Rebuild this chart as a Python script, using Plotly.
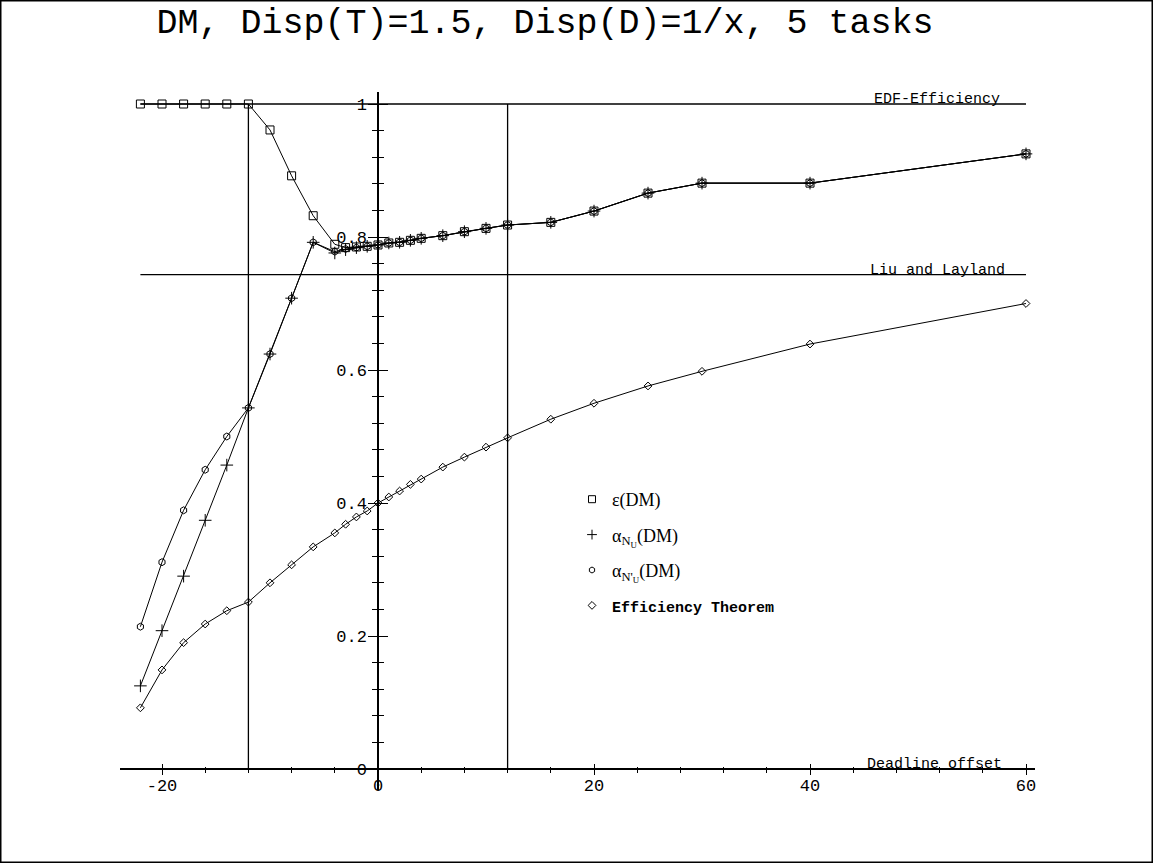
import plotly.graph_objects as go

# ---------------- data ----------------
x_offset = [-22, -20, -18, -16, -14, -12, -10, -8, -6, -4, -3, -2, -1, 0, 1, 2, 3, 4,
            6, 8, 10, 12, 16, 20, 25, 30, 40, 60]

eps_dm = [1.0, 1.0, 1.0, 1.0, 1.0, 1.0, 0.961, 0.892, 0.832, 0.789, 0.784, 0.785, 0.786,
          0.788, 0.791, 0.792, 0.795, 0.798, 0.802, 0.808, 0.813, 0.818, 0.822, 0.839,
          0.866, 0.881, 0.881, 0.925]

alpha_nu = [0.125, 0.208, 0.290, 0.374, 0.457, 0.543, 0.624, 0.708, 0.792, 0.776, 0.781,
            0.784, 0.786, 0.788, 0.791, 0.792, 0.795, 0.798, 0.802, 0.808, 0.813, 0.818,
            0.822, 0.839, 0.866, 0.881, 0.881, 0.925]

alpha_nu_prime = [0.214, 0.311, 0.389, 0.450, 0.500, 0.543, 0.624, 0.708, 0.792, 0.778,
                  0.782, 0.784, 0.786, 0.788, 0.791, 0.792, 0.795, 0.798, 0.802, 0.808,
                  0.813, 0.818, 0.822, 0.839, 0.866, 0.881, 0.881, 0.925]

eff_theorem = [0.092, 0.149, 0.190, 0.218, 0.238, 0.251, 0.280, 0.307, 0.334, 0.355, 0.368,
               0.379, 0.388, 0.400, 0.409, 0.418, 0.428, 0.436, 0.454, 0.469, 0.484, 0.498,
               0.526, 0.550, 0.576, 0.598, 0.639, 0.700]

ref_levels = [1.0, 0.7435]
ref_level_labels = ["EDF-Efficiency", "Liu and Layland"]
ref_verticals = [-12, 12]

x_tickvals = [-20, 0, 20, 40, 60]
x_ticktext = ["-20", "0", "20", "40", "60"]
y_tickvals = [0, 0.2, 0.4, 0.6, 0.8, 1.0]
y_ticktext = ["0", "0.2", "0.4", "0.6", "0.8", "1"]

title_text = "DM, Disp(T)=1.5, Disp(D)=1/x, 5 tasks"
x_label = "Deadline offset"

series_names = ["ε(DM)",
                "α<sub>N<sub>U</sub></sub>(DM)",
                "α<sub>N'<sub>U</sub></sub>(DM)",
                "<span style=\"font-family:'Liberation Mono';font-size:15px\"><b>Efficiency Theorem</b></span>"]

# ---------------- figure ----------------
W, H = 1153, 863
MONO = "Liberation Mono"
SERIF = "Liberation Serif"

fig = go.Figure()

# reference lines
for lvl in ref_levels:
    fig.add_trace(go.Scatter(x=[x_offset[0], x_offset[-1]], y=[lvl, lvl], mode="lines",
                             line=dict(color="black", width=1.3), showlegend=False,
                             hoverinfo="skip"))
for xv in ref_verticals:
    fig.add_trace(go.Scatter(x=[xv, xv], y=[0, ref_levels[0]], mode="lines",
                             line=dict(color="black", width=1.3), showlegend=False,
                             hoverinfo="skip"))

markers = [
    dict(symbol="square-open", size=8, color="black", line=dict(width=1, color="black")),
    dict(symbol="cross-thin-open", size=9, color="black", line=dict(width=1, color="black")),
    dict(symbol="hexagon-open", size=7, color="black", line=dict(width=1, color="black")),
    dict(symbol="diamond-open", size=6, color="black", line=dict(width=1, color="black")),
]
legend_markers = [
    dict(symbol="square-open", size=7, color="black", line=dict(width=1, color="black")),
    dict(symbol="cross-thin-open", size=7, color="black", line=dict(width=1, color="black")),
    dict(symbol="hexagon-open", size=6, color="black", line=dict(width=1, color="black")),
    dict(symbol="diamond-open", size=6, color="black", line=dict(width=1, color="black")),
]
ys = [eps_dm, alpha_nu, alpha_nu_prime, eff_theorem]

for yv, mk in zip(ys, markers):
    fig.add_trace(go.Scatter(x=x_offset, y=yv, mode="lines+markers",
                             line=dict(color="black", width=1), marker=mk,
                             showlegend=False, cliponaxis=False))

# legend-only entries (marker only)
for i, (name, mk) in enumerate(zip(series_names, legend_markers)):
    fig.add_trace(go.Scatter(x=[None], y=[None], mode="markers", marker=mk, name=name,
                             legendgroup="g%d" % i, showlegend=True))

# overlay axes for ticks on the inner side
fig.add_trace(go.Scatter(x=[None], y=[None], xaxis="x2", yaxis="y2", showlegend=False,
                         hoverinfo="skip"))

# pixel geometry
x0_px, px_per_x = 378.0, 10.8
y0_px, px_per_y = 769.0, 665.0
xl_px, xr_px = 120.0, 1035.0
yt_px, yb_px = 92.0, 790.0
x_range = [(xl_px - x0_px) / px_per_x, (xr_px - x0_px) / px_per_x]
y_range = [(y0_px - yb_px) / px_per_y, (y0_px - yt_px) / px_per_y]
x_dom = [xl_px / W, xr_px / W]
y_dom = [1 - yb_px / H, 1 - yt_px / H]
x_pos = 1 - y0_px / H
y_pos = x0_px / W

common_x = dict(range=x_range, domain=x_dom, anchor="free", position=x_pos,
                showgrid=False, zeroline=False, tickmode="array", tickvals=x_tickvals,
                ticktext=x_ticktext, tickcolor="black", tickwidth=1.3)
common_y = dict(range=y_range, domain=y_dom, anchor="free", position=y_pos,
                showgrid=False, zeroline=False, tickmode="array", tickvals=y_tickvals,
                ticktext=y_ticktext, tickcolor="black", tickwidth=1.3)

fig.update_layout(
    width=W, height=H,
    margin=dict(l=0, r=0, t=0, b=0),
    paper_bgcolor="white", plot_bgcolor="white",
    title=dict(text=title_text, x=545 / W, xanchor="center", y=1 - 21 / H, yanchor="middle",
               font=dict(family=MONO, size=35, color="black")),
    xaxis=dict(**common_x, showline=True, linecolor="black", linewidth=1.5,
               ticks="outside", ticklen=5, ticklabelstandoff=-4,
               tickfont=dict(family=MONO, size=17, color="black"),
               minor=dict(ticks="outside", ticklen=3, dtick=4, tick0=0, tickcolor="black",
                          tickwidth=1)),
    yaxis=dict(**common_y, showline=True, linecolor="black", linewidth=1.5,
               ticks="outside", ticklen=9, ticklabelstandoff=-2,
               tickfont=dict(family=MONO, size=17, color="black"),
               minor=dict(ticks="outside", ticklen=5, dtick=0.04, tick0=0, tickcolor="black",
                          tickwidth=1)),
    xaxis2=dict(**common_x, overlaying="x", showline=False, ticks="inside", ticklen=5,
                showticklabels=False,
                minor=dict(ticks="inside", ticklen=2, dtick=4, tick0=0, tickcolor="black",
                           tickwidth=1)),
    yaxis2=dict(**common_y, overlaying="y", showline=False, ticks="inside", ticklen=9,
                showticklabels=False,
                minor=dict(ticks="inside", ticklen=5, dtick=0.04, tick0=0, tickcolor="black",
                           tickwidth=1)),
    showlegend=True,
    legend=dict(x=572 / W, y=1 - 481 / H, xanchor="left", yanchor="top",
                bgcolor="rgba(0,0,0,0)", tracegroupgap=9,
                font=dict(family=SERIF, size=18, color="black")),
)

# reference line labels
for lvl, lab in zip(ref_levels, ref_level_labels):
    fig.add_annotation(x=51.8, y=lvl, xref="x", yref="y", text=lab, showarrow=False,
                       xanchor="center", yanchor="middle", yshift=4,
                       font=dict(family=MONO, size=15, color="black"))
fig.add_annotation(x=51.5, y=0, xref="x", yref="y", text=x_label, showarrow=False,
                   xanchor="center", yanchor="middle", yshift=5,
                   font=dict(family=MONO, size=15, color="black"))

# outer frame
fig.add_shape(type="rect", xref="paper", yref="paper", x0=0, x1=1, y0=0, y1=1,
              line=dict(color="black", width=3))

fig.write_html("out.html")
